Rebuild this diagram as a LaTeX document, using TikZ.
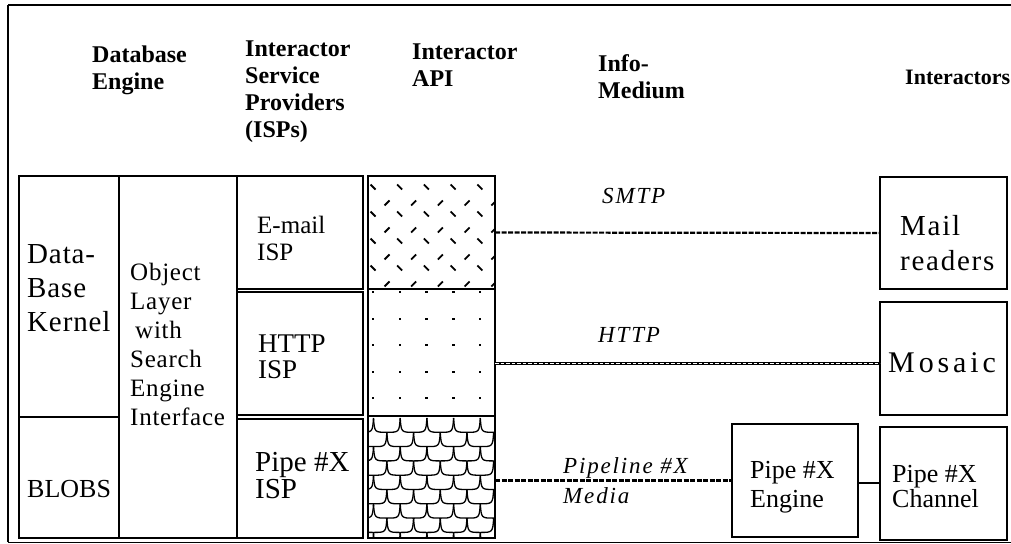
\documentclass[tikz,border=0pt]{standalone}
\usepackage{fontspec}
\setmainfont{Liberation Serif}

\begin{document}
\begin{tikzpicture}[x=1pt,y=-1pt,
    box/.style={draw,rectangle,anchor=north west,inner sep=0pt,outer sep=0pt},
    dbbox/.style={box,line width=1.6pt},
    ispbox/.style={box,line width=2.6pt},
    apibox/.style={box,line width=2pt},
    hdr/.style={anchor=base west,inner sep=0pt,align=left,
      font=\fontsize{24}{27}\selectfont\bfseries},
    txt/.style={anchor=base west,inner sep=0pt,align=left},
    medium/.style={txt,font=\fontsize{23}{30}\selectfont\itshape\addfontfeatures{LetterSpace=8}},
    dashline/.style={line width=2.2pt,dash pattern=on 5pt off 1.5pt},
    chainline/.style={line width=3.2pt,
      postaction={draw=white,line width=1.2pt,dash pattern=on 3.5pt off 2pt}},
    apitick/.style={line width=1.8pt},
    scaleline/.style={line width=1.3pt}]

  \useasboundingbox (0,0) rectangle (1011,543);

  % frame
  \draw[line width=2.5pt] (8,5) -- (1011,5);
  \draw[line width=1.5pt] (8,5) -- (8,542);
  \draw[line width=1pt] (8,542) -- (1011,542);

  % column headers (anchored at the last baseline)
  \node[hdr] (hdb) at (92,89) {Database\\Engine};
  \node[hdr] (hisp) at (245,137) {Interactor\\Service\\Providers\\(ISPs)};
  \node[hdr] (hapi) at (412,86) {Interactor\\API};
  \node[hdr] (hmed) at (598,98) {Info-\\Medium};
  \node[hdr,font=\fontsize{22}{27}\selectfont\bfseries] (hint) at (905,84) {Interactors};

  % database engine
  \node[dbbox,minimum width=100,minimum height=241] (kernel) at (19,176) {};
  \node[dbbox,minimum width=100,minimum height=121] (blobs) at (19,417) {};
  \node[dbbox,minimum width=118,minimum height=362] (objlayer) at (119,176) {};
  \node[txt,font=\fontsize{29}{34}\selectfont\addfontfeatures{LetterSpace=3}] (tkernel) at (27,331) {Data-\\Base\\Kernel};
  \node[txt,font=\fontsize{26}{30}\selectfont] (tblobs) at (27,497) {BLOBS};
  \node[txt,font=\fontsize{25}{29}\selectfont\addfontfeatures{LetterSpace=3}] (tobj) at (130,425)
    {Object\\Layer\\\hspace{5pt}with\\Search\\Engine\\Interface};

  % ISPs
  \node[ispbox,minimum width=126,minimum height=113] (email) at (237,176) {};
  \node[ispbox,minimum width=126,minimum height=123] (httpisp) at (237,292) {};
  \node[ispbox,minimum width=126,minimum height=119] (pipeisp) at (237,419) {};
  \node[txt,font=\fontsize{25}{27}\selectfont] (temail) at (257,260) {E-mail\\ISP};
  \node[txt,font=\fontsize{27}{26}\selectfont] (thttp) at (258,378) {HTTP\\ISP};
  \node[txt,font=\fontsize{29}{27}\selectfont] (tpipe) at (255,498) {Pipe \#X\\ISP};

  % interactor API
  \node[apibox,minimum width=127,minimum height=113] (apismtp) at (368,176) {};
  \node[apibox,minimum width=127,minimum height=127] (apihttp) at (368,289) {};
  \node[apibox,minimum width=127,minimum height=122] (apipipe) at (368,416) {};

  \begin{scope}
    \clip (apismtp.north west) rectangle (apismtp.south east);
    \foreach \i in {0,...,4}
      \foreach \j in {0,...,3} {
        \draw[apitick] (370.5+26.7*\i,184.5+27*\j) -- ++(5,5);
        \draw[apitick] (384.5+26.7*\i,205.5+27*\j) -- ++(5,-5);
      }
  \end{scope}
  \begin{scope}
    \clip (apihttp.north west) rectangle (apihttp.south east);
    \foreach \i in {0,...,4}
      \foreach \j in {0,...,4}
        \fill (372+26.7*\i,291+26.5*\j) rectangle ++(2.4,2.4);
  \end{scope}
  \begin{scope}
    \clip (apipipe.north west) rectangle (apipipe.south east);
    \foreach \j in {0,...,8}
      \foreach \i in {-1,...,5} {
        \pgfmathsetmacro{\xo}{373.5+26.7*\i-13.35*mod(\j,2)}
        \pgfmathsetmacro{\yo}{418+14.3*\j}
        \draw[scaleline] (\xo,\yo) .. controls (\xo+1,\yo+14.3) .. (\xo+13.35,\yo+14.3)
          .. controls (\xo+25.7,\yo+14.3) .. (\xo+26.7,\yo);
      }
  \end{scope}
  \node[apibox,minimum width=127,minimum height=113] at (368,176) {};
  \node[apibox,minimum width=127,minimum height=127] at (368,289) {};
  \node[apibox,minimum width=127,minimum height=122] at (368,416) {};

  % interactors
  \node[ispbox,minimum width=127,minimum height=112] (mail) at (880,177) {};
  \node[ispbox,minimum width=127,minimum height=113] (mosaic) at (880,302) {};
  \node[ispbox,minimum width=126,minimum height=113] (engine) at (732,424) {};
  \node[ispbox,minimum width=127,minimum height=113] (channel) at (880,427) {};
  \node[txt,font=\fontsize{29}{35}\selectfont\addfontfeatures{LetterSpace=6}] (tmail) at (900,270) {Mail\\readers};
  \node[txt,font=\fontsize{30}{34}\selectfont\addfontfeatures{LetterSpace=13}] (tmosaic) at (888,372) {Mosaic};
  \node[txt,font=\fontsize{26}{29}\selectfont] (tengine) at (750,507) {Pipe \#X\\Engine};
  \node[txt,font=\fontsize{26}{25}\selectfont] (tchannel) at (892,507) {Pipe \#X\\Channel};

  % info media
  \draw[dashline] (apismtp.east) -- (mail.west);
  \draw[chainline] ([yshift=-5pt]apihttp.east |- mosaic.west) -- ([yshift=-5pt]mosaic.west);
  \draw[dashline] (apipipe.east |- engine.west) -- (engine.west);
  \draw[line width=1.6pt] ([yshift=-2.5pt]engine.east) -- ([yshift=-2.5pt]engine.east -| channel.west);
  \node[medium] (lsmtp) at (602,203) {SMTP};
  \node[medium] (lhttp) at (598,342) {HTTP};
  \node[medium] (lpipe) at (563,503) {Pipeline \#X\\Media};

\end{tikzpicture}
\end{document}
